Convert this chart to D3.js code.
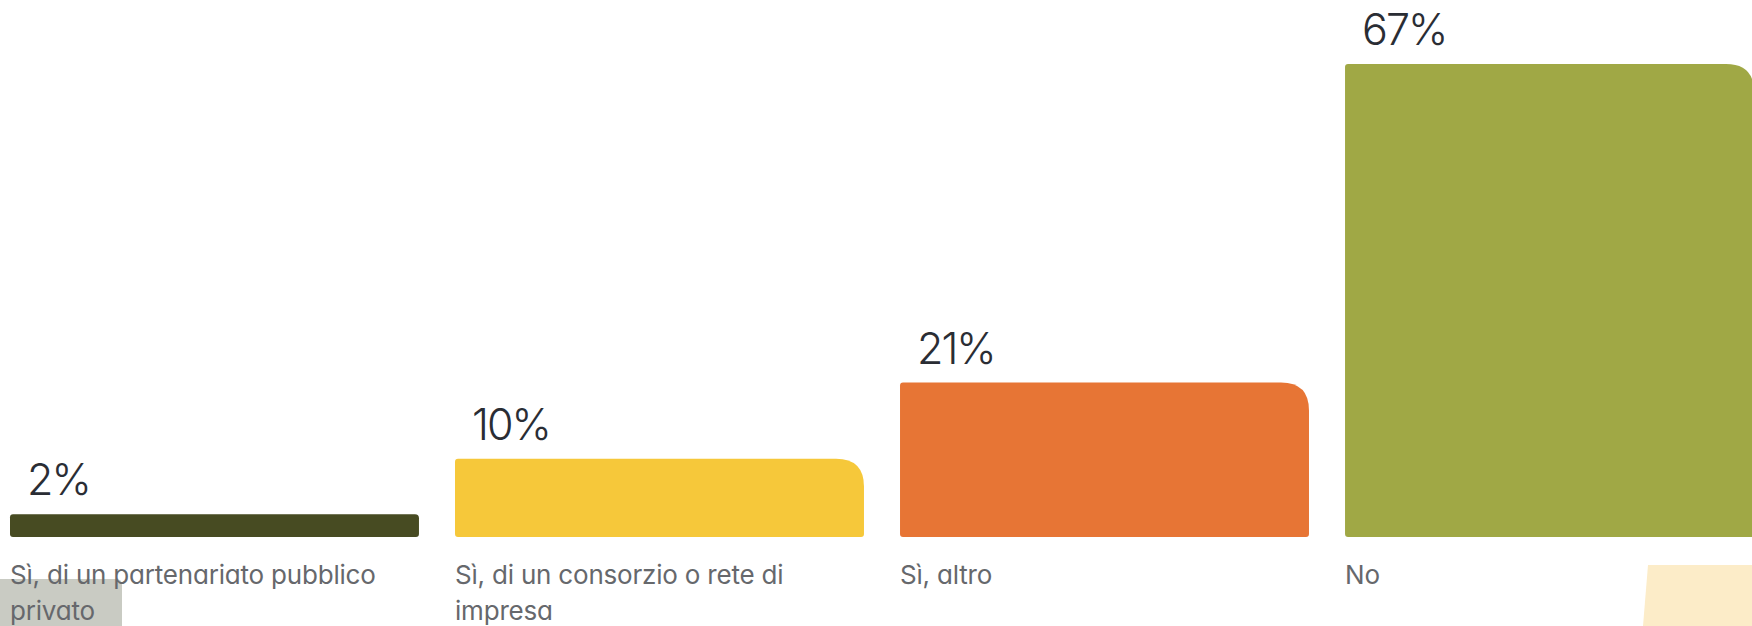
<!DOCTYPE html>
<html lang="en">
<head>
  <meta charset="UTF-8">
  <title>Partenariato</title>
  <script src="https://d3js.org/d3.v7.min.js"></script>
  <style>
    html, body { margin: 0; padding: 0; background: #ffffff; }
    svg { display: block; }
    .value { font-family: Inter, "Noto Sans", sans-serif; font-weight: 300; fill: #2a2d34; letter-spacing: -2px; }
    .cat { font-family: Inter, "Noto Sans", sans-serif; font-weight: 400; fill: #66686c; letter-spacing: -0.2px; font-feature-settings: "cv11" 1; }
  </style>
</head>
<body>
  <div id="chart"></div>
  <script>
    // chart data
    const categories = [
      "Sì, di un partenariato pubblico privato",
      "Sì, di un consorzio o rete di impresa",
      "Sì, altro",
      "No"
    ];
    const values = [2, 10, 21, 67];
    const valueLabels = ["2%", "10%", "21%", "67%"];
    const colors = ["#474b22", "#f6c83a", "#e77535", "#a0a845"];

    const width = 1752, height = 626;
    const baseline = 537; // bottom edge of the bars

    const svg = d3.select("#chart")
      .append("svg")
      .attr("width", width)
      .attr("height", height);

    const x = d3.scaleBand()
      .domain(categories)
      .range([10, 1754])
      .paddingInner(0.081)
      .paddingOuter(0);

    const y = d3.scaleLinear()
      .domain([0, 67])
      .range([528, 64]);

    // bar shape: small corners, large rounded top-right
    function barPath(x0, y0, w, h) {
      const r = 3;
      const R = h < 40 ? 4 : 28;
      return `M${x0},${y0 + r}
        Q${x0},${y0} ${x0 + r},${y0}
        L${x0 + w - R},${y0}
        Q${x0 + w},${y0} ${x0 + w},${y0 + R}
        L${x0 + w},${y0 + h - r}
        Q${x0 + w},${y0 + h} ${x0 + w - r},${y0 + h}
        L${x0 + r},${y0 + h}
        Q${x0},${y0 + h} ${x0},${y0 + h - r}Z`;
    }

    // screenshot leftovers in the corners
    svg.append("path")
      .attr("d", "M0,579 L116,579 Q122,579 122,585 L122,626 L0,626Z")
      .attr("fill", "#c9cbc3");
    svg.append("path")
      .attr("d", "M1648,565 L1752,565 L1752,626 L1643,626Z")
      .attr("fill", "#fcecc8");

    const data = categories.map((c, i) => ({ cat: c, value: values[i], label: valueLabels[i], color: colors[i] }));

    svg.selectAll("path.bar")
      .data(data)
      .join("path")
      .attr("class", "bar")
      .attr("fill", d => d.color)
      .attr("d", d => barPath(x(d.cat), y(d.value), x.bandwidth(), baseline - y(d.value)));

    svg.selectAll("text.value")
      .data(data)
      .join("text")
      .attr("class", "value")
      .attr("x", d => x(d.cat) + 17)
      .attr("y", d => y(d.value) - 19)
      .attr("font-size", 43)
      .text(d => d.label);

    // category labels, wrapped to the bar width
    const cats = svg.selectAll("text.cat")
      .data(data)
      .join("text")
      .attr("class", "cat")
      .attr("font-size", 26)
      .attr("x", d => x(d.cat))
      .attr("y", 584);

    cats.each(function(d) {
      const text = d3.select(this);
      const words = d.cat.split(" ");
      let line = [];
      let lineNo = 0;
      let tspan = text.append("tspan").attr("x", x(d.cat)).attr("y", 584);
      words.forEach(w => {
        line.push(w);
        tspan.text(line.join(" "));
        if (tspan.node().getComputedTextLength() > x.bandwidth() && line.length > 1) {
          line.pop();
          tspan.text(line.join(" "));
          line = [w];
          lineNo++;
          tspan = text.append("tspan").attr("x", x(d.cat)).attr("y", 584 + lineNo * 36).text(w);
        }
      });
    });
  </script>
</body>
</html>
